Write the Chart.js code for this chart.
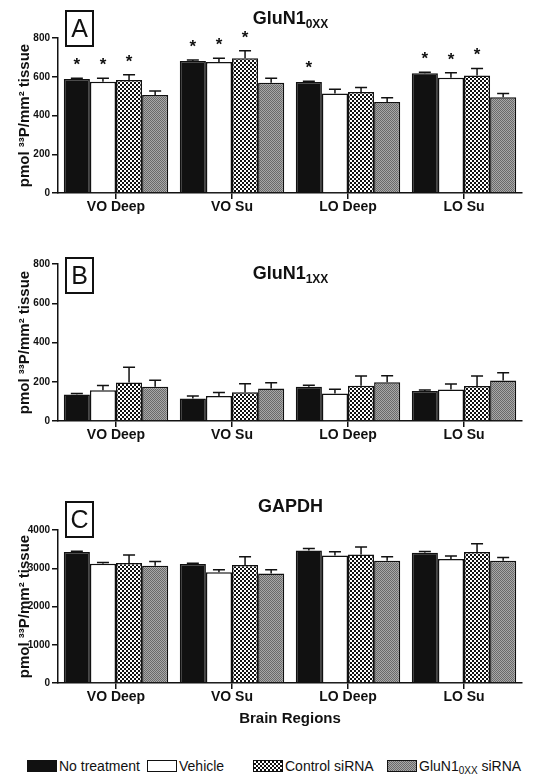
<!DOCTYPE html>
<html>
<head>
<meta charset="utf-8">
<script src="https://cdn.jsdelivr.net/npm/chart.js@4/dist/chart.umd.min.js"></script>
<style>
  body { margin: 0; background: #fff; font-family: "Liberation Sans", Arial, sans-serif; }
  #page { position: relative; width: 539px; height: 779px; overflow: hidden; }
  canvas { position: absolute; left: 0; }
  .letter { position: absolute; left: 65px; width: 25px; height: 33px; border: 2px solid #111;
            font-size: 25px; line-height: 33px; text-align: center; color: #111; }
  .ptitle { position: absolute; width: 539px; left: 0; text-align: center; font-weight: bold;
            font-size: 18px; color: #111; padding-left: 42px; box-sizing: border-box; }
  .ptitle sub { font-size: 12px; vertical-align: -4px; }
  .sw { position: absolute; top: 760px; width: 28px; height: 10px; border: 1.5px solid #111; }
  .lt { position: absolute; top: 758px; font-size: 14px; color: #111; white-space: nowrap; }
  .lt sub { font-size: 10px; vertical-align: -3px; }
</style>
</head>
<body>
<div id="page">
  <canvas id="chartA" width="539" height="215" style="top:0px"></canvas>
  <canvas id="chartB" width="539" height="213" style="top:230px"></canvas>
  <canvas id="chartC" width="539" height="268" style="top:460px"></canvas>

  <div class="letter" style="top:10px">A</div>
  <div class="letter" style="top:257px">B</div>
  <div class="letter" style="top:501px">C</div>

  <div class="ptitle" style="top:8px">GluN1<sub>0XX</sub></div>
  <div class="ptitle" style="top:263px">GluN1<sub>1XX</sub></div>
  <div class="ptitle" style="top:496px">GAPDH</div>

  <div class="sw" id="sw0" style="left:27px"></div>
  <div class="lt" style="left:59px">No treatment</div>
  <div class="sw" id="sw1" style="left:147px"></div>
  <div class="lt" style="left:179px">Vehicle</div>
  <div class="sw" id="sw2" style="left:253px"></div>
  <div class="lt" style="left:285px">Control siRNA</div>
  <div class="sw" id="sw3" style="left:387px"></div>
  <div class="lt" style="left:419px">GluN1<sub>0XX</sub> siRNA</div>
</div>

<script>
// categories and groups
const regions = ['VO Deep', 'VO Su', 'LO Deep', 'LO Su'];
const treatments = ['No treatment', 'Vehicle', 'Control siRNA', 'GluN1 0XX siRNA'];

// Panel A: GluN1 0XX (mean, SEM)
const a_noTreat = [588, 681, 573, 618];
const a_noTreatErr = [4, 5, 4, 5];
const a_vehicle = [574, 676, 514, 595];
const a_vehicleErr = [18, 19, 22, 26];
const a_control = [583, 695, 521, 606];
const a_controlErr = [27, 39, 24, 37];
const a_knock = [506, 569, 470, 494];
const a_knockErr = [20, 23, 22, 20];
// significance stars (1 = star)
const a_noTreatStar = [1, 1, 1, 1];
const a_vehicleStar = [1, 1, 0, 1];
const a_controlStar = [1, 1, 0, 1];
const a_knockStar = [0, 0, 0, 0];

// Panel B: GluN1 1XX
const b_noTreat = [135, 115, 174, 153];
const b_noTreatErr = [5, 13, 8, 5];
const b_vehicle = [157, 128, 140, 160];
const b_vehicleErr = [24, 17, 22, 28];
const b_control = [196, 147, 179, 178];
const b_controlErr = [78, 43, 50, 51];
const b_knock = [174, 166, 198, 207];
const b_knockErr = [34, 29, 32, 39];

// Panel C: GAPDH
const c_noTreat = [3424, 3110, 3467, 3406];
const c_noTreatErr = [20, 20, 52, 30];
const c_vehicle = [3118, 2893, 3336, 3240];
const c_vehicleErr = [35, 70, 96, 79];
const c_control = [3136, 3084, 3362, 3424];
const c_controlErr = [210, 218, 192, 217];
const c_knock = [3066, 2865, 3197, 3197];
const c_knockErr = [113, 97, 105, 87];

const yTitle = 'pmol \u00B3\u00B3P/mm\u00B2 tissue';
const fontFam = '"Liberation Sans", Arial, sans-serif';

// fill patterns for the bars
function checkerPattern() {
    const c = document.createElement('canvas');
    c.width = 4; c.height = 4;
    const g = c.getContext('2d');
    g.fillStyle = '#fff'; g.fillRect(0, 0, 4, 4);
    g.fillStyle = '#111'; g.fillRect(0, 0, 2, 2); g.fillRect(2, 2, 2, 2);
    return g.createPattern(c, 'repeat');
}
function grayPattern() {
    const c = document.createElement('canvas');
    c.width = 2; c.height = 2;
    const g = c.getContext('2d');
    g.fillStyle = '#a8a8a8'; g.fillRect(0, 0, 2, 2);
    g.fillStyle = '#6a6a6a'; g.fillRect(0, 0, 1, 1); g.fillRect(1, 1, 1, 1);
    return g.createPattern(c, 'repeat');
}
const fills = ['#111', '#fff', checkerPattern(), grayPattern()];

// legend swatches
document.getElementById('sw0').style.background = '#111';
document.getElementById('sw1').style.background = '#fff';
document.getElementById('sw2').style.background = 'repeating-conic-gradient(#111 0 25%, #fff 0 50%) 0 0/4px 4px';
document.getElementById('sw3').style.background = 'repeating-conic-gradient(#6a6a6a 0 25%, #a8a8a8 0 50%) 0 0/2px 2px';

// draws the upper error bars and the stars
const errorBarPlugin = {
    id: 'errorBars',
    afterDatasetsDraw(chart) {
        const ctx = chart.ctx;
        const yScale = chart.scales.y;
        ctx.save();
        chart.data.datasets.forEach((ds, i) => {
            const meta = chart.getDatasetMeta(i);
            meta.data.forEach((bar, j) => {
                const top = yScale.getPixelForValue(ds.data[j] + ds.errors[j]);
                ctx.strokeStyle = '#111';
                ctx.lineWidth = 1.5;
                ctx.beginPath();
                ctx.moveTo(bar.x, bar.y);
                ctx.lineTo(bar.x, top);
                ctx.moveTo(bar.x - 6, top);
                ctx.lineTo(bar.x + 6, top);
                ctx.stroke();
                if (ds.stars && ds.stars[j]) {
                    ctx.fillStyle = '#111';
                    ctx.font = 'bold 17px ' + fontFam;
                    ctx.textAlign = 'center';
                    ctx.textBaseline = 'alphabetic';
                    ctx.fillText('*', bar.x, top - 8);
                }
            });
        });
        ctx.restore();
    }
};

function makePanel(id, series, errors, stars, maxY, stepY, padTop, xHeight, showXTitle) {
    const ctx = document.getElementById(id).getContext('2d');
    return new Chart(ctx, {
        type: 'bar',
        data: {
            labels: regions,
            datasets: series.map((s, i) => ({
                label: treatments[i],
                data: s,
                errors: errors[i],
                stars: stars ? stars[i] : null,
                backgroundColor: fills[i],
                borderColor: '#111',
                borderWidth: 1.5,
                borderSkipped: 'bottom',
                categoryPercentage: 0.9,
                barPercentage: 1.0
            }))
        },
        options: {
            responsive: false,
            animation: false,
            events: [],
            layout: { padding: { top: padTop, left: 16, right: 17, bottom: 0 } },
            plugins: { legend: { display: false }, tooltip: { enabled: false } },
            scales: {
                x: {
                    grid: { display: true, offset: false, drawOnChartArea: false, tickLength: 6, tickColor: '#111', lineWidth: 1.5 },
                    border: { display: true, color: '#111', width: 1.5 },
                    ticks: { color: '#111', font: { family: fontFam, size: 14, weight: 'bold' }, padding: 0, maxRotation: 0 },
                    title: { display: showXTitle, text: 'Brain Regions', color: '#111',
                             font: { family: fontFam, size: 15, weight: 'bold' }, padding: { top: 4, bottom: 0 } },
                    afterFit(scale) { scale.height = xHeight; }
                },
                y: {
                    min: 0, max: maxY,
                    grid: { drawOnChartArea: false, tickLength: 6, tickColor: '#111', lineWidth: 1.5 },
                    border: { display: true, color: '#111', width: 1.5 },
                    ticks: { stepSize: stepY, color: '#111', font: { family: fontFam, size: 10, weight: 'bold' }, padding: 2,
                             callback: v => String(v) },
                    title: { display: true, text: yTitle, color: '#111',
                             font: { family: fontFam, size: 15, weight: 'bold' }, padding: { top: 0, bottom: 0 } },
                    afterFit(scale) { scale.width = 42; }
                }
            }
        },
        plugins: [errorBarPlugin]
    });
}

makePanel('chartA',
    [a_noTreat, a_vehicle, a_control, a_knock],
    [a_noTreatErr, a_vehicleErr, a_controlErr, a_knockErr],
    [a_noTreatStar, a_vehicleStar, a_controlStar, a_knockStar],
    800, 200, 38, 22, false);

makePanel('chartB',
    [b_noTreat, b_vehicle, b_control, b_knock],
    [b_noTreatErr, b_vehicleErr, b_controlErr, b_knockErr],
    null, 800, 200, 34, 22, false);

makePanel('chartC',
    [c_noTreat, c_vehicle, c_control, c_knock],
    [c_noTreatErr, c_vehicleErr, c_controlErr, c_knockErr],
    null, 4000, 1000, 70, 45, true);
</script>
</body>
</html>
